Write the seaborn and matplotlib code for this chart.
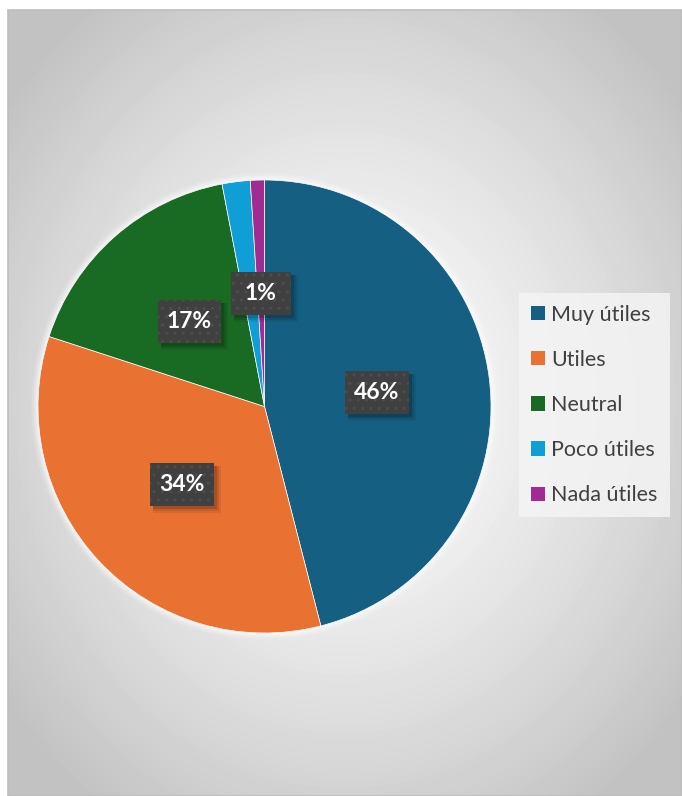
import numpy as np
import matplotlib
matplotlib.use("Agg")
import matplotlib.pyplot as plt
from matplotlib.patches import Patch, Rectangle
from matplotlib.transforms import IdentityTransform
import seaborn as sns

# Survey answers: how useful the respondents found the resource
categories = ["Muy útiles", "Utiles", "Neutral", "Poco útiles", "Nada útiles"]
percentages = [46, 34, 17, 2, 1]
shown_labels = ["46%", "34%", "17%", "", "1%"]
colors = ["#156082", "#E97132", "#196B24", "#0F9ED5", "#A02B93"]

sns.set_theme(style="white")
plt.rcParams["font.family"] = ["Lato", "DejaVu Sans"]

W, H = 682, 796
fig = plt.figure(figsize=(W / 100, H / 100), dpi=100)
fig.patch.set_facecolor("white")

# Radial gray backdrop of the chart area
bg = fig.add_axes([8 / W, 0, (W - 8) / W, (H - 10) / H])
bw, bh = W - 8, H - 10
yy, xx = np.mgrid[0:bh, 0:bw]
d = np.sqrt(((xx - bw / 2) / (bw / 2)) ** 2 + ((yy - bh / 2) / (bh / 2)) ** 2)
shade = np.clip(255 - 45 * d ** 1.3, 195, 255) / 255.0
bg.imshow(shade, cmap="gray", vmin=0, vmax=1, aspect="auto", interpolation="bilinear")
bg.set_axis_off()
fig.add_artist(plt.Rectangle((8 / W, 0), (W - 8) / W, (H - 10) / H,
                             transform=fig.transFigure, fill=False,
                             edgecolor="#bdbdbd", linewidth=1.2))

# Pie axes
cx, cy, r = 264.5, 406.5, 226.5
ax = fig.add_axes([(cx - r) / W, (H - cy - r) / H, 2 * r / W, 2 * r / H])
ax.set_facecolor("none")

# soft glow behind the pie
for k, a in [(1.03, 0.15), (1.02, 0.25), (1.01, 0.4)]:
    ax.add_patch(plt.Circle((0, 0), k, color="white", alpha=a, lw=0,
                            zorder=0, clip_on=False))

wedges, texts, autotexts = ax.pie(
    percentages,
    colors=colors,
    startangle=90,
    counterclock=False,
    radius=1,
    autopct="%1.0f%%",
    pctdistance=0.5,
    wedgeprops=dict(edgecolor="white", linewidth=0.5),
)
ax.set_xlim(-1, 1)
ax.set_ylim(-1, 1)
ax.set_aspect("equal")
ax.set_axis_off()

FS = 16.5
for at, lab in zip(autotexts, shown_labels):
    at.set_text(lab)
    at.set_visible(bool(lab))
    at.set_color("white")
    at.set_fontsize(FS)
    at.set_fontweight("bold")
    at.set_zorder(6)

# Dark patterned boxes behind the percentage labels, with a soft shadow
fig.canvas.draw()
plt.rcParams["hatch.linewidth"] = 1.0
BOX_H = 43
for at, lab in zip(autotexts, shown_labels):
    if not lab:
        continue
    ext = at.get_window_extent()
    mx, my = (ext.x0 + ext.x1) / 2, (ext.y0 + ext.y1) / 2
    bwid = max(ext.width + 18, 60)
    x0, y0 = mx - bwid / 2, my - BOX_H / 2
    for off, a, grow in [(5, 0.07, 2), (4, 0.10, 1), (3, 0.14, 0)]:
        fig.add_artist(Rectangle((x0 + off - grow, y0 - off - grow),
                                 bwid + 2 * grow, BOX_H + 2 * grow,
                                 transform=IdentityTransform(),
                                 facecolor="black", alpha=a, linewidth=0, zorder=4))
    box = Rectangle((x0, y0), bwid, BOX_H, transform=IdentityTransform(),
                    facecolor="#404040", edgecolor="#4d4d4d", linewidth=0,
                    hatch="..", zorder=5)
    fig.add_artist(box)
    at.remove()
    fig.text(mx, my, lab, transform=IdentityTransform(), ha="center", va="center",
             color="white", fontsize=FS, fontweight="bold", zorder=6)

# Legend on the right
handles = [Patch(facecolor=c, edgecolor="none", label=n) for c, n in zip(colors, categories)]
leg = fig.legend(
    handles=handles,
    loc="center left",
    bbox_to_anchor=(519 / W, 1 - 405 / H),
    frameon=True,
    fontsize=15.5,
    handlelength=0.65,
    handleheight=0.65,
    handletextpad=0.3,
    labelspacing=1.17,
    borderpad=0.55,
    borderaxespad=0,
    fancybox=False,
)
leg.get_frame().set_facecolor("#f4f4f4")
leg.get_frame().set_alpha(0.85)
leg.get_frame().set_linewidth(0)
for t in leg.get_texts():
    t.set_color("#404040")

fig.savefig("out.png", dpi=100, facecolor=fig.get_facecolor())
